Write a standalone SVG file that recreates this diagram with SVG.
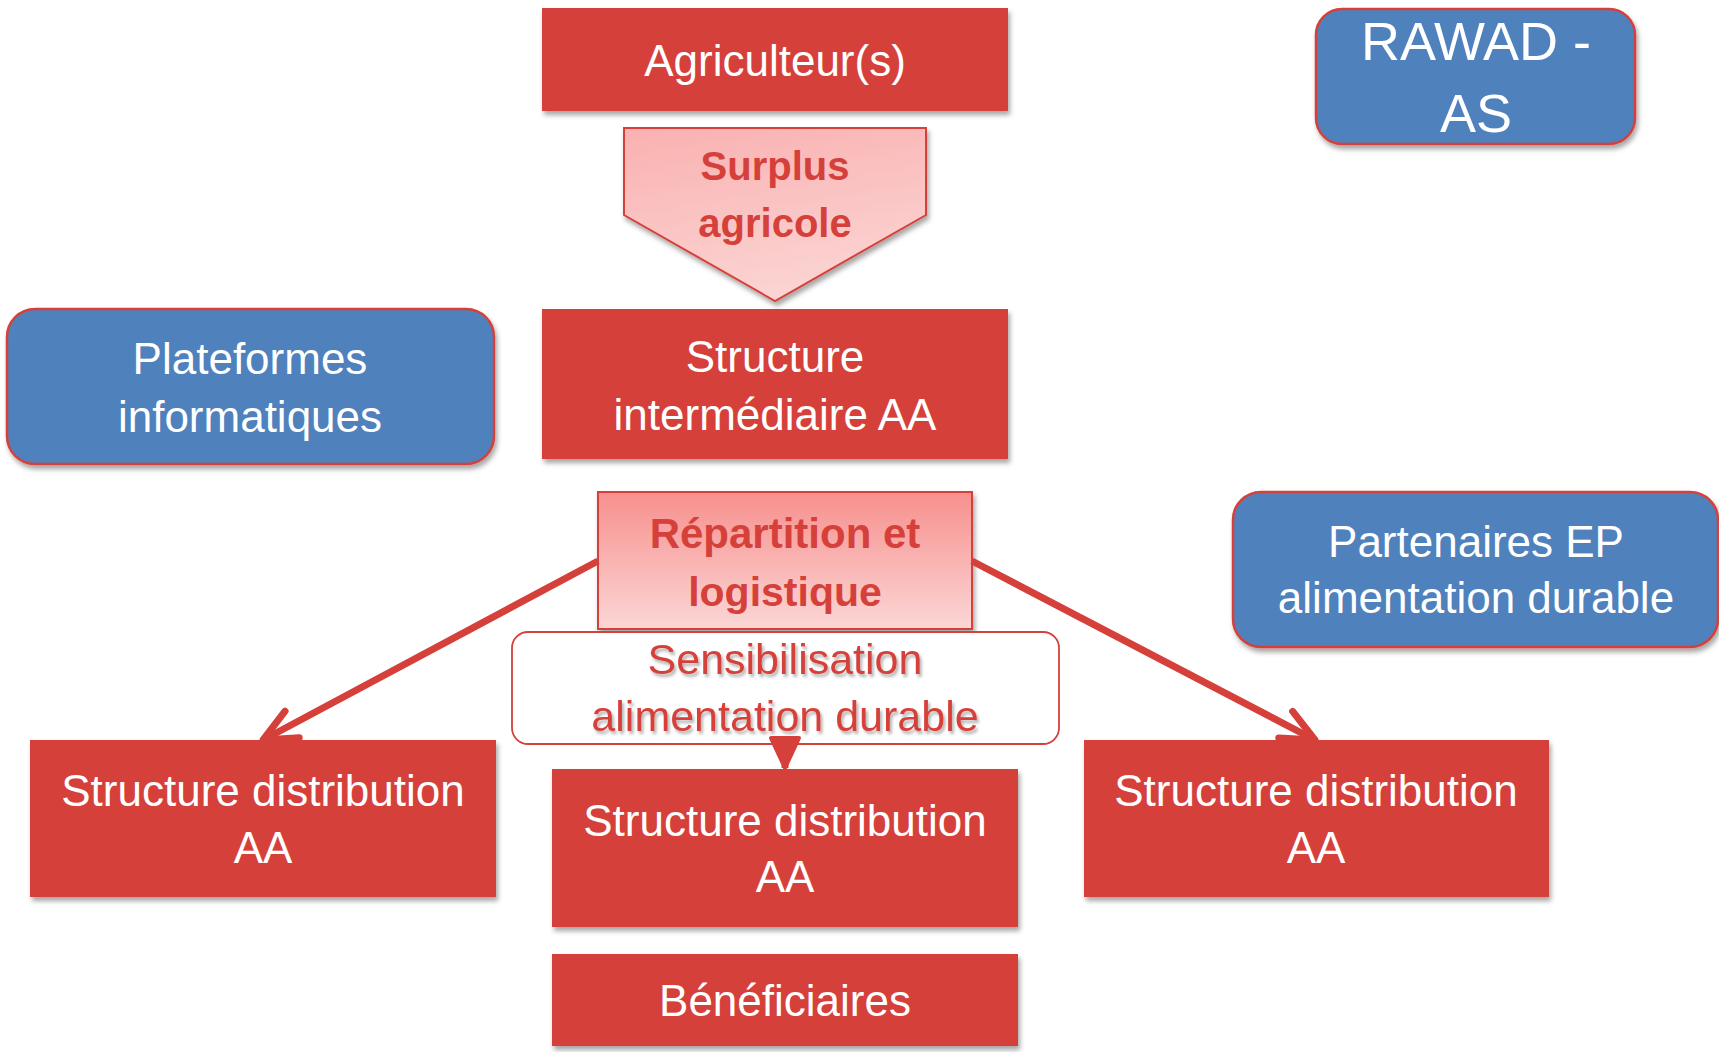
<svg xmlns="http://www.w3.org/2000/svg" width="1719" height="1052" viewBox="0 0 1719 1052">
<defs>
<style>
.red{fill:#D6403A;}
.blue{fill:#4F81BD;stroke:#D6403A;stroke-width:2.5;}
.wt{fill:#FFFFFF;font-family:"Liberation Sans",Arial,sans-serif;font-size:44px;text-anchor:middle;}
.rt{fill:#D6403A;font-family:"Liberation Sans",Arial,sans-serif;font-size:41px;font-weight:bold;text-anchor:middle;}
.st{fill:#D6403A;font-family:"Liberation Sans",Arial,sans-serif;font-size:43px;text-anchor:middle;}
.conn{fill:none;stroke:#D6403A;stroke-width:7;}
</style>
<filter id="sh" x="-10%" y="-10%" width="120%" height="130%">
<feDropShadow dx="2" dy="4" stdDeviation="2.5" flood-color="#000" flood-opacity="0.35"/>
</filter>
<filter id="tsh" x="-10%" y="-20%" width="120%" height="150%">
<feDropShadow dx="2" dy="3" stdDeviation="1.5" flood-color="#000" flood-opacity="0.3"/>
</filter>
<linearGradient id="gSur" x1="0" y1="0" x2="0.3" y2="1">
<stop offset="0" stop-color="#F9B1B0"/>
<stop offset="1" stop-color="#FBD3D2"/>
</linearGradient>
<linearGradient id="gRep" x1="0" y1="0" x2="0" y2="1">
<stop offset="0" stop-color="#F7908D"/>
<stop offset="1" stop-color="#FBD7D6"/>
</linearGradient>
<marker id="arr" markerUnits="userSpaceOnUse" markerWidth="80" markerHeight="80" viewBox="-50 -40 80 80" refX="0" refY="0" orient="auto" overflow="visible">
<path d="M-33,-15 L0,0 L-33,15" fill="none" stroke="#D6403A" stroke-width="7" stroke-linecap="round" stroke-linejoin="round"/>
</marker>
<marker id="arrF" markerUnits="userSpaceOnUse" markerWidth="80" markerHeight="80" viewBox="-50 -40 80 80" refX="0" refY="0" orient="auto" overflow="visible">
<path d="M-30,-14 L0,0 L-30,14 Z" fill="#D6403A" stroke="#D6403A" stroke-width="4" stroke-linejoin="round"/>
</marker>
</defs>
<rect width="1719" height="1052" fill="#FFFFFF"/>

<g id="agriculteurs">
<rect class="red" x="542" y="8" width="466" height="103" filter="url(#sh)"/>
<text class="wt" x="775" y="76">Agriculteur(s)</text>
</g>

<g id="surplus">
<path d="M624,128 L926,128 L926,215 L775,301 L624,215 Z" fill="url(#gSur)" stroke="#D6403A" stroke-width="2" filter="url(#sh)"/>
<text class="rt" x="775" y="180" style="font-size:40px">Surplus</text>
<text class="rt" x="775" y="237" style="font-size:40px">agricole</text>
</g>

<g id="structure-intermediaire">
<rect class="red" x="542" y="309" width="466" height="150" filter="url(#sh)"/>
<text class="wt" x="775" y="372">Structure</text>
<text class="wt" x="775" y="430">intermédiaire AA</text>
</g>

<g id="plateformes">
<rect class="blue" x="7" y="309" width="487" height="155" rx="28" ry="28" filter="url(#sh)"/>
<text class="wt" x="250" y="374">Plateformes</text>
<text class="wt" x="250" y="432">informatiques</text>
</g>

<g id="rawad">
<rect class="blue" x="1316" y="9" width="319" height="135" rx="26" ry="26" filter="url(#sh)"/>
<text class="wt" x="1476" y="60" style="font-size:54px">RAWAD -</text>
<text class="wt" x="1476" y="132" style="font-size:54px">AS</text>
</g>

<g id="partenaires">
<rect class="blue" x="1233" y="492" width="485" height="155" rx="28" ry="28" filter="url(#sh)"/>
<text class="wt" x="1476" y="557">Partenaires EP</text>
<text class="wt" x="1476" y="613">alimentation durable</text>
</g>

<g id="repartition">
<rect x="598" y="492" width="374" height="137" fill="url(#gRep)" stroke="#D6403A" stroke-width="2" filter="url(#sh)"/>
<text class="rt" x="785" y="548" style="font-size:42px">Répartition et</text>
<text class="rt" x="785" y="606">logistique</text>
</g>

<g id="sensibilisation">
<rect x="512" y="632" width="547" height="112" rx="16" ry="16" fill="#FFFFFF" stroke="#D6403A" stroke-width="1.8"/>
<text class="st" x="785" y="674" filter="url(#tsh)">Sensibilisation</text>
<text class="st" x="785" y="731" filter="url(#tsh)">alimentation durable</text>
</g>

<g id="connectors">
<path class="conn" d="M598,561 L263,740" marker-end="url(#arr)"/>
<path class="conn" d="M972,561 L1315,740" marker-end="url(#arr)"/>
<path class="conn" d="M785,742 L785,768" marker-end="url(#arrF)"/>
</g>

<g id="distribution-gauche">
<rect class="red" x="30" y="740" width="466" height="157" filter="url(#sh)"/>
<text class="wt" x="263" y="806">Structure distribution</text>
<text class="wt" x="263" y="863">AA</text>
</g>

<g id="distribution-centre">
<rect class="red" x="552" y="769" width="466" height="158" filter="url(#sh)"/>
<text class="wt" x="785" y="836">Structure distribution</text>
<text class="wt" x="785" y="892">AA</text>
</g>

<g id="distribution-droite">
<rect class="red" x="1084" y="740" width="465" height="157" filter="url(#sh)"/>
<text class="wt" x="1316" y="806">Structure distribution</text>
<text class="wt" x="1316" y="863">AA</text>
</g>

<g id="beneficiaires">
<rect class="red" x="552" y="954" width="466" height="92" filter="url(#sh)"/>
<text class="wt" x="785" y="1016">Bénéficiaires</text>
</g>
</svg>
